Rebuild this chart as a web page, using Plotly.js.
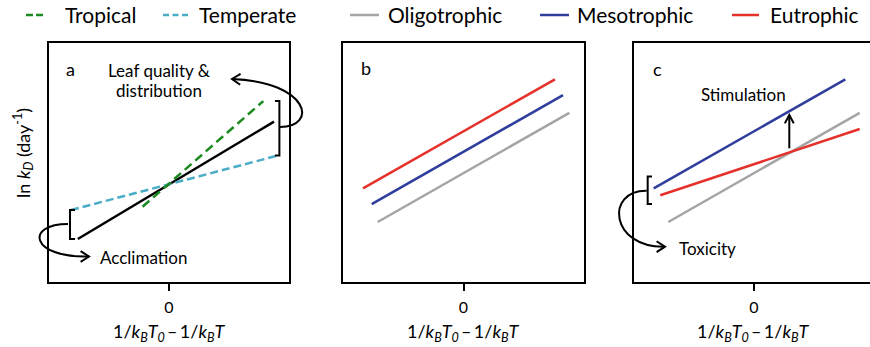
<!DOCTYPE html>
<html><head><meta charset="utf-8">
<script src="https://cdn.plot.ly/plotly-3.0.1.min.js"></script>
<style>html,body{margin:0;padding:0;background:#fff;}#chart{width:870px;height:347px;}</style>
</head><body><div id="chart"></div>
<script>
// ---- data (x: 1/kBT0 - 1/kBT, y: ln kD, arbitrary units) ----
// Panel a
const aBaseX = [-0.76, 0.875], aBaseY = [1.80, 6.71];
const tropicalX = [-0.22, 0.786], tropicalY = [3.15, 7.57];
const temperateX = [-0.817, 0.906], temperateY = [3.01, 5.29];
// Panel b
const bOligoX = [-0.712, 0.878], bOligoY = [2.51, 7.08];
const bMesoX = [-0.762, 0.826], bMesoY = [3.26, 7.82];
const bEutroX = [-0.834, 0.759], bEutroY = [3.92, 8.48];
// Panel c
const cOligoX = [-0.714, 0.881], cOligoY = [2.51, 7.08];
const cMesoX = [-0.836, 0.761], cMesoY = [3.92, 8.48];
const cEutroX = [-0.781, 0.881], cEutroY = [3.63, 6.40];
// ticks / labels
const xTickVals = [0];
const xTickText = ['0'];
const legendNames = ['Tropical', 'Temperate', 'Oligotrophic', 'Mesotrophic', 'Eutrophic'];
const panelLetters = ['a', 'b', 'c'];

// ---- style ----
const W = 870, H = 347;
const FONT = 'Lato, "Open Sans", sans-serif';
const C = {black:'#000000', green:'#1c8a1e', lblue:'#4bacc6', gray:'#a5a5a5', blue:'#2f3d9c', red:'#e5312b'};
const P = px => px / W;          // pixel -> paper x
const Q = py => 1 - py / H;      // pixel -> paper y

function line(x, y, xa, ya, color, dash, name) {
  return {type:'scatter', mode:'lines', x:x, y:y, xaxis:xa, yaxis:ya, name:name || '',
    line:{color:color, width:2.5, dash:dash || 'solid'}, showlegend:false, hoverinfo:'skip'};
}
const data = [
  line(aBaseX, aBaseY, 'x', 'y', C.black),
  line(temperateX, temperateY, 'x', 'y', C.lblue, '8px,4px', legendNames[1]),
  line(tropicalX, tropicalY, 'x', 'y', C.green, '9px,5px', legendNames[0]),
  line(bOligoX, bOligoY, 'x2', 'y2', C.gray, null, legendNames[2]),
  line(bMesoX, bMesoY, 'x2', 'y2', C.blue, null, legendNames[3]),
  line(bEutroX, bEutroY, 'x2', 'y2', C.red, null, legendNames[4]),
  line(cOligoX, cOligoY, 'x3', 'y3', C.gray, null, legendNames[2]),
  line(cEutroX, cEutroY, 'x3', 'y3', C.red, null, legendNames[4]),
  line(cMesoX, cMesoY, 'x3', 'y3', C.blue, null, legendNames[3])
];

const yDom = [1 - 282 / H, 1 - 43 / H];
const axBase = {showgrid:false, zeroline:false, showline:true, linecolor:'#000', linewidth:2, mirror:true, fixedrange:true};
function xax(dom, range, anchor) {
  return Object.assign({}, axBase, {domain:dom, range:range, anchor:anchor, tickmode:'array',
    tickvals:xTickVals, ticktext:xTickText, ticks:'outside', ticklen:7, tickwidth:2, tickcolor:'#000',
    ticklabelstandoff:3, tickfont:{family:FONT, size:16, color:'#000'}});
}
function yax(anchor, mirror) {
  return Object.assign({}, axBase, {domain:yDom, range:[0, 10], anchor:anchor, showticklabels:false, ticks:'', mirror:mirror});
}

// arrowhead helper (pixel space)
function head(tx, ty, angDeg, L, half) {
  const a1 = (angDeg + 180 - half) * Math.PI / 180, a2 = (angDeg + 180 + half) * Math.PI / 180;
  return `M${P(tx + L * Math.cos(a1))},${Q(ty + L * Math.sin(a1))} L${P(tx)},${Q(ty)} L${P(tx + L * Math.cos(a2))},${Q(ty + L * Math.sin(a2))}`;
}
const pathShape = (path, w) => ({type:'path', xref:'paper', yref:'paper', path:path, line:{color:'#000', width:w || 2}});
function bracket(xa, ya, xv, xt, y0, y1) {
  return {type:'path', xref:xa, yref:ya, path:`M${xt},${y0} L${xv},${y0} L${xv},${y1} L${xt},${y1}`, line:{color:'#000', width:2}};
}

const shapes = [
  // brackets
  bracket('x', 'y', -0.825, -0.783, aBaseY[0], temperateY[0]),
  bracket('x', 'y', 0.92, 0.883, temperateY[1], tropicalY[1]),
  bracket('x3', 'y3', -0.886, -0.85, 3.26, 4.41),
  // curved arrows
  pathShape(`M${P(68)},${Q(224)} C${P(25)},${Q(224)} ${P(30)},${Q(258)} ${P(89)},${Q(256.5)}`),
  pathShape(head(89, 256.5, 0, 10, 33)),
  pathShape(`M${P(280)},${Q(127)} C${P(318)},${Q(127)} ${P(310)},${Q(82)} ${P(232)},${Q(79)}`),
  pathShape(head(232, 79, 182, 10, 33)),
  pathShape(`M${P(646.7)},${Q(190.7)} C${P(605)},${Q(190)} ${P(610)},${Q(248)} ${P(665)},${Q(246.7)}`),
  pathShape(head(665, 246.7, 0, 10, 33)),
  // stimulation arrow
  pathShape(`M${P(789.3)},${Q(148.3)} L${P(789.3)},${Q(115)}`),
  pathShape(head(789.3, 115, -90, 9.5, 28)),
  // legend samples
  {type:'line', xref:'paper', yref:'paper', x0:P(26), x1:P(43), y0:Q(15), y1:Q(15), line:{color:C.green, width:2.5, dash:'7px,3px'}},
  {type:'line', xref:'paper', yref:'paper', x0:P(163), x1:P(188), y0:Q(15), y1:Q(15), line:{color:C.lblue, width:2.5, dash:'6px,3.5px'}},
  {type:'line', xref:'paper', yref:'paper', x0:P(350), x1:P(379), y0:Q(15), y1:Q(15), line:{color:C.gray, width:2.5}},
  {type:'line', xref:'paper', yref:'paper', x0:P(540), x1:P(569), y0:Q(15), y1:Q(15), line:{color:C.blue, width:2.5}},
  {type:'line', xref:'paper', yref:'paper', x0:P(732), x1:P(759), y0:Q(15), y1:Q(15), line:{color:C.red, width:2.5}}
];

function txt(text, x, y, size, xanchor, extra) {
  return Object.assign({text:text, xref:'paper', yref:'paper', x:P(x), y:Q(y), xanchor:xanchor || 'center', yanchor:'middle',
    showarrow:false, font:{family:FONT, size:size, color:'#000'}}, extra || {});
}
const xTitle = '1/<i>k</i><sub><i>B</i></sub><i>T</i><sub><i>0</i></sub>\u2009\u2013\u20091/<i>k</i><sub><i>B</i></sub><i>T</i>';
const annotations = [
  txt(legendNames[0], 63, 14, 21, 'left'),
  txt(legendNames[1], 197, 14, 21, 'left'),
  txt(legendNames[2], 386, 14, 21, 'left'),
  txt(legendNames[3], 575, 14, 21, 'left'),
  txt(legendNames[4], 768, 14, 21, 'left'),
  txt(panelLetters[0], 70, 69, 18),
  txt(panelLetters[1], 366, 68, 18),
  txt(panelLetters[2], 657, 69, 18),
  txt('Leaf quality &amp;', 159, 70, 17),
  txt('distribution', 159, 90, 17),
  txt('Acclimation', 98, 257, 17, 'left'),
  txt('Stimulation', 743, 95, 17),
  txt('Toxicity', 677, 248, 17, 'left'),
  txt(xTitle, 169, 332, 18),
  txt(xTitle, 463, 332, 18),
  txt(xTitle, 753, 332, 18),
  txt('ln <i>k</i><sub><i>D</i></sub> (day<sup>-1</sup>)', 23, 153, 18, 'center', {textangle:-90})
];

const layout = {
  width:W, height:H, autosize:false, margin:{l:0, r:0, t:0, b:0},
  paper_bgcolor:'#fff', plot_bgcolor:'#fff', showlegend:false,
  font:{family:FONT, color:'#000'},
  xaxis: xax([49 / W, 289 / W], [-1, 1], 'y'),
  yaxis: yax('x', true),
  xaxis2: xax([343 / W, 584 / W], [-1, 1], 'y2'),
  yaxis2: yax('x2', true),
  xaxis3: xax([634 / W, 1], [-1, (870 - 754) / 120], 'y3'),
  yaxis3: yax('x3', false),
  shapes:shapes, annotations:annotations
};
Plotly.newPlot('chart', data, layout, {displayModeBar:false});
</script></body></html>
